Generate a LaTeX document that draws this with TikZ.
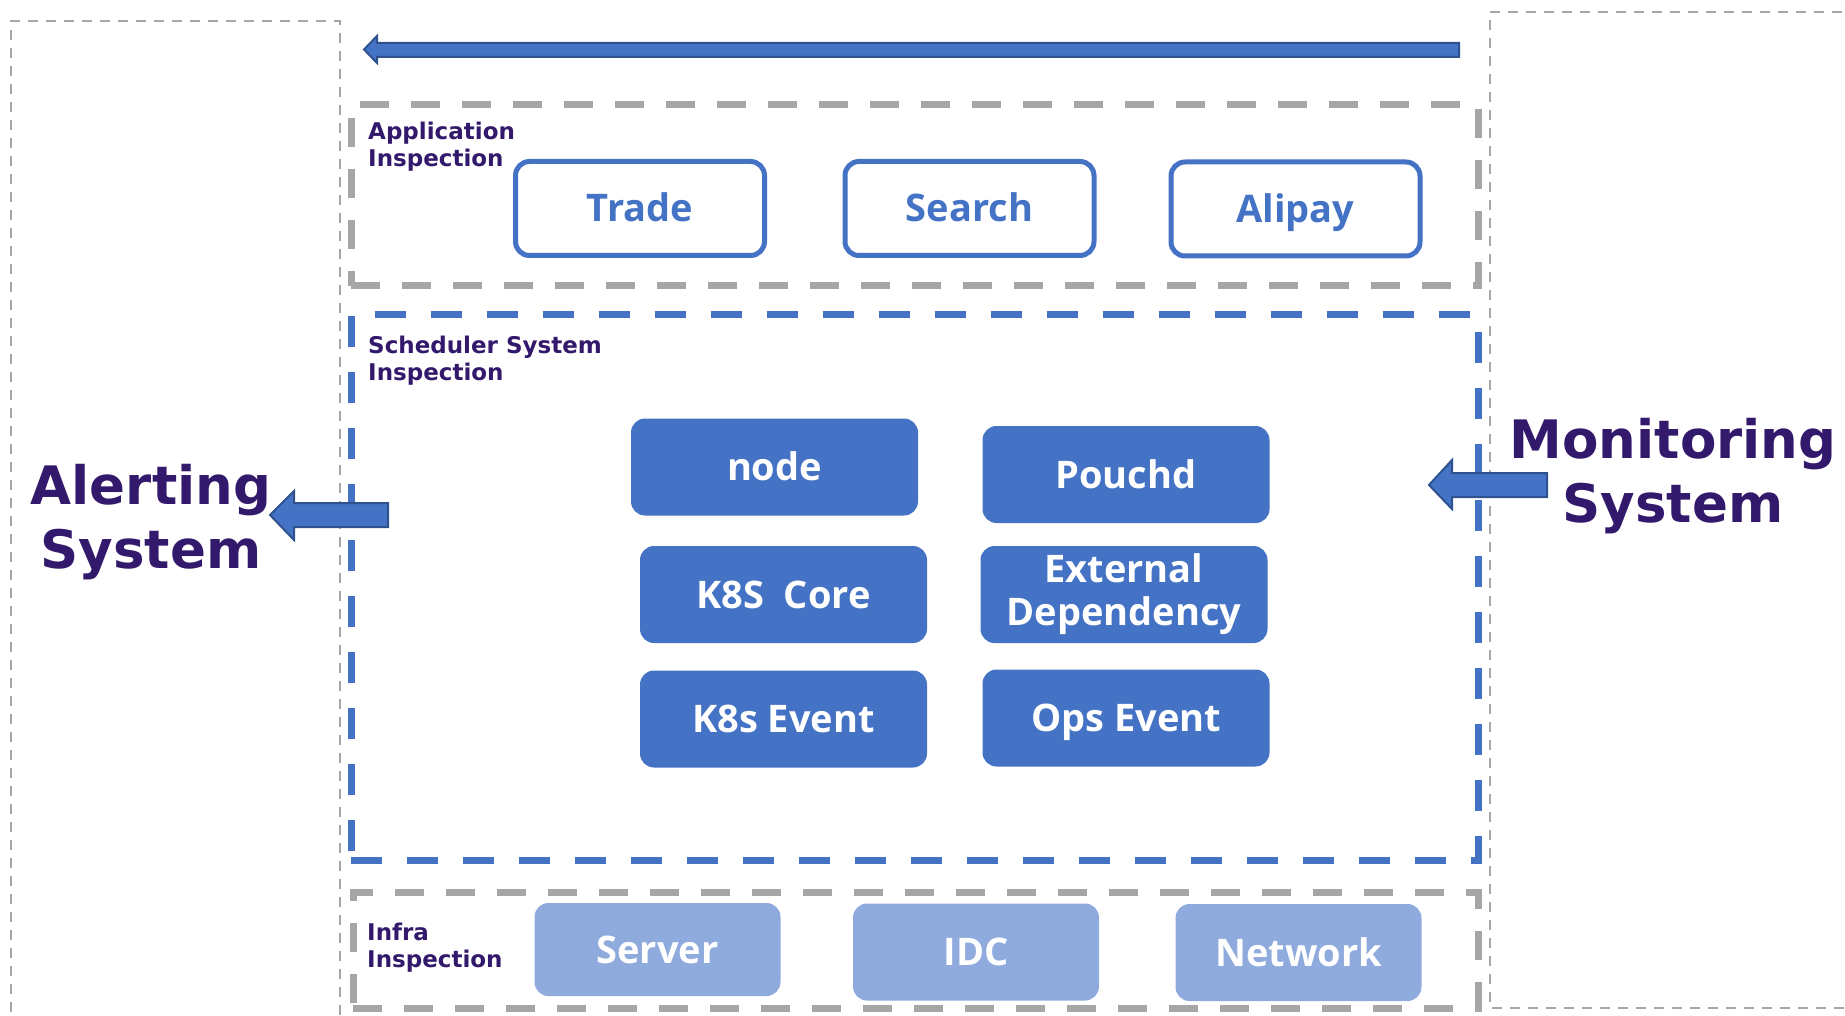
\documentclass[tikz,border=0pt]{standalone}
\usepackage{fontspec}
\setmainfont{DejaVu Sans}
\newfontfamily\boxfont{Open Sans}
\newfontfamily\lblfont{DejaVu Sans}
\definecolor{mblue}{HTML}{4472C4}
\definecolor{lblue}{HTML}{8FAADC}
\definecolor{dblue}{HTML}{2F528F}
\definecolor{mgray}{HTML}{A6A6A6}
\definecolor{mpurple}{HTML}{33196B}
\begin{document}
\begin{tikzpicture}[x=1pt,y=-1pt,
  thingray/.style={draw=mgray, line width=2.5pt, dash pattern=on 10pt off 8pt},
  graybox/.style={draw=mgray, line width=7pt, dash pattern=on 29pt off 22pt, inner sep=0pt},
  bluebox/.style={draw=mblue, line width=7pt, dash pattern=on 31pt off 25pt, inner sep=0pt},
  outbox/.style={draw=mblue, line width=5pt, fill=white, rounded corners=14pt, minimum width=249pt, minimum height=94pt, inner sep=0pt, text=mblue, font=\boxfont\bfseries\fontsize{38}{43}\selectfont, text height=27pt, text depth=0pt},
  solidbox/.style={fill=mblue, rounded corners=14pt, minimum width=287pt, minimum height=97pt, inner sep=0pt, text=white, font=\boxfont\bfseries\fontsize{38}{43}\selectfont, text height=27pt, text depth=0pt},
  twolinebox/.style={fill=mblue, rounded corners=14pt, minimum width=287pt, minimum height=97pt, inner sep=0pt, text=white, font=\boxfont\bfseries\fontsize{38}{43}\selectfont, align=center},
  infrabox/.style={fill=lblue, rounded corners=14pt, minimum width=246pt, minimum height=97pt, inner sep=0pt, text=white, font=\boxfont\bfseries\fontsize{38}{43}\selectfont, text height=27pt, text depth=0pt},
  smalllbl/.style={text=mpurple, font=\lblfont\bfseries\fontsize{23}{27}\selectfont, align=left, inner sep=0pt},
  biglbl/.style={text=mpurple, font=\lblfont\bfseries\fontsize{53}{64}\selectfont, align=center, inner sep=0pt},
  blockarrow/.style={fill=mblue, draw=dblue, line width=2pt, line join=miter}
]
\useasboundingbox (0,0) rectangle (1845,1016);

% outer thin dashed frames
\draw[thingray] (11,1030) -- (11,21) -- (340,21) -- (340,1030);
\draw[thingray] (1860,12) -- (1490,12) -- (1490,1008) -- (1860,1008);

% layer frames
\node[graybox, minimum width=1127pt, minimum height=181pt] (appframe) at (914.5,195.5) {};
\node[bluebox, minimum width=1127pt, minimum height=545pt] (schedframe) at (914.5,587.5) {};
\node[graybox, minimum width=1125pt, minimum height=116pt] (infraframe) at (915.5,950) {};

% layer labels (anchor at baseline of last line)
\node[smalllbl, anchor=base west] (applbl) at (368,167) {Application\\Inspection};
\node[smalllbl, anchor=base west] (schedlbl) at (368,381) {Scheduler System\\Inspection};
\node[smalllbl, anchor=base west] (infralbl) at (367,967) {Infra\\Inspection};

% application boxes
\node[outbox] (trade) at (640,208.5) {Trade};
\node[outbox] (search) at (969.5,208.5) {Search};
\node[outbox] (alipay) at (1295.5,209) {Alipay};

% scheduler boxes
\node[solidbox] (nnode) at (774.5,467) {node};
\node[solidbox] (pouchd) at (1126,474.5) {Pouchd};
\node[solidbox] (k8score) at (783.5,594.5) {K8S~~Core};
\node[twolinebox] (extdep) at (1124,594.5) {External\\Dependency};
\node[solidbox] (k8sevent) at (783.5,719) {K8s Event};
\node[solidbox] (opsevent) at (1126,718) {Ops Event};

% infra boxes
\node[infrabox, minimum height=93pt] (server) at (657.5,949.5) {Server};
\node[infrabox] (idc) at (976,952) {IDC};
\node[infrabox] (network) at (1298.5,952.5) {Network};

% side labels
\node[biglbl, anchor=base] (alerting) at (151,568) {Alerting\\System};
\node[biglbl, anchor=base] (monitoring) at (1673,522) {Monitoring\\System};

% block arrows
\draw[blockarrow] (1459,43) -- (377,43) -- (377,36) -- (364,49.5) -- (377,63) -- (377,57) -- (1459,57) -- cycle;
\draw[blockarrow] (388,503) -- (294,503) -- (294,491) -- (270,515) -- (294,540) -- (294,527) -- (388,527) -- cycle;
\draw[blockarrow] (1547,473) -- (1452,473) -- (1452,460) -- (1429,485) -- (1452,509) -- (1452,497) -- (1547,497) -- cycle;
\end{tikzpicture}
\end{document}
